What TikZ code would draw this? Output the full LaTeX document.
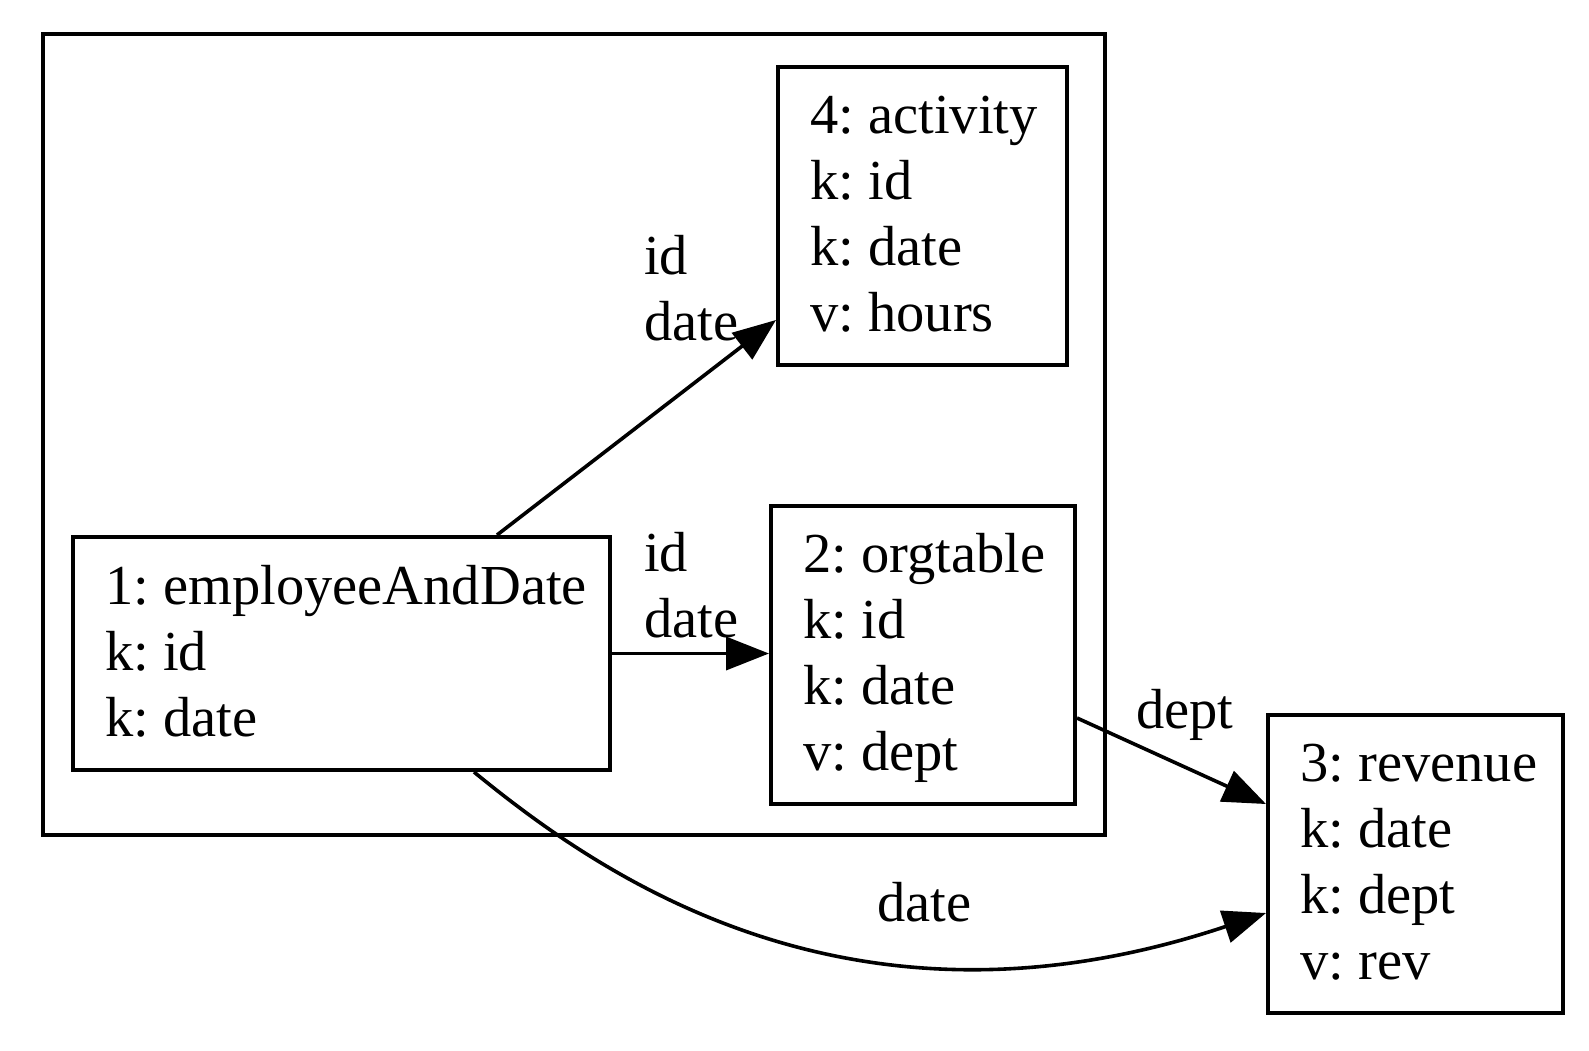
\documentclass[tikz,border=0pt]{standalone}
\usepackage{fontspec}
\setmainfont{Liberation Serif}
\usetikzlibrary{arrows.meta,calc}
\frenchspacing
\newcommand\rl{\rule[-16pt]{0pt}{65pt}}
\begin{document}
\begin{tikzpicture}[x=1pt,y=-1pt,
  box/.style={draw, line width=4pt, rectangle, inner sep=0pt},
  txt/.style={anchor=west, align=left, inner sep=0pt, font=\fontsize{56.5}{66}\selectfont\frenchspacing},
  lbl/.style={align=left, inner sep=0pt, font=\fontsize{56.5}{66}\selectfont\frenchspacing},
  edge/.style={line width=3.6pt, -{Triangle[length=43pt,width=33pt]}}
]
\useasboundingbox (0,0) rectangle (1589,1050);
\fill[white] (0,0) rectangle (1589,1050);
% cluster
\node[box, minimum width=1062pt, minimum height=801pt] (cl) at (574,434.5) {};
% boxes
\node[box, minimum width=289pt, minimum height=298pt] (n4) at (922.5,215.5) {};
\node[box, minimum width=537pt, minimum height=233pt] (n1) at (341.5,653.5) {};
\node[box, minimum width=304pt, minimum height=298pt] (n2) at (923,654.5) {};
\node[box, minimum width=295pt, minimum height=298pt] (n3) at (1415.5,864) {};
% texts
\node[txt] (t4) at ([xshift=34pt]n4.west) {\rl 4: activity\\\rl k: id\\\rl k: date\\\rl v: hours};
\node[txt] (t1) at ([xshift=34pt]n1.west) {\rl 1: employeeAndDate\\\rl k: id\\\rl k: date};
\node[txt] (t2) at ([xshift=34pt]n2.west) {\rl 2: orgtable\\\rl k: id\\\rl k: date\\\rl v: dept};
\node[txt] (t3) at ([xshift=34pt]n3.west) {\rl 3: revenue\\\rl k: date\\\rl k: dept\\\rl v: rev};
% edges
\draw[edge] ([xshift=155.5pt]n1.north) -- ([yshift=-104.5pt]n4.west);
\draw[edge] (n1.east) -- (n1.east -| n2.west);
\draw[edge] ([yshift=-63.5pt]n2.east) -- ([yshift=60pt]n3.west);
\draw[edge] ([xshift=132.5pt]n1.south) .. controls (600,875) and (850,1052) .. ([yshift=-49pt]n3.west);
% edge labels
\node[lbl, anchor=north west] (l14) at (644,225) {\rl id\\\rl date};
\node[lbl, anchor=north west] (l12) at (644,522) {\rl id\\\rl date};
\node[lbl, anchor=base west] (l23) at (1136,728) {dept};
\node[lbl, anchor=base west] (l13) at (877,921) {date};
\end{tikzpicture}
\end{document}
